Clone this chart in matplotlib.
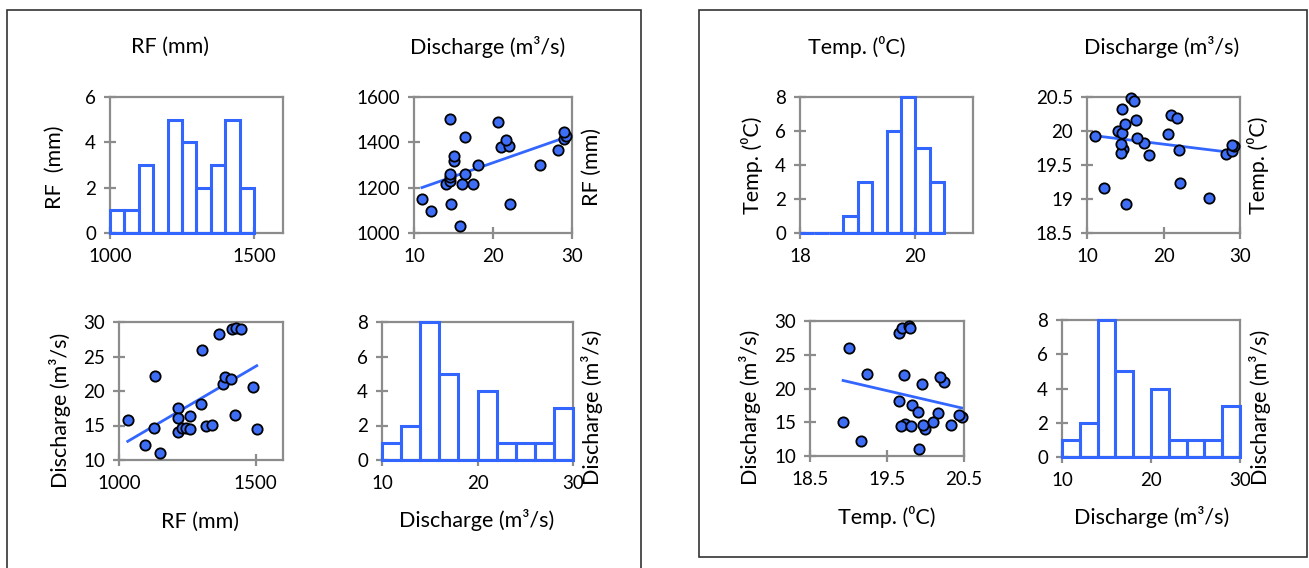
import numpy as np
import matplotlib
matplotlib.use("Agg")
import matplotlib.pyplot as plt
from matplotlib.patches import Rectangle
from matplotlib.ticker import FuncFormatter, MultipleLocator

plt.rcParams["font.family"] = ["Lato", "DejaVu Sans"]

rf = [1032, 1095, 1127, 1130, 1150, 1216, 1216, 1216, 1230, 1245, 1260, 1260, 1300,
      1302, 1318, 1340, 1367, 1380, 1386, 1410, 1413, 1429, 1447, 1424, 1490, 1504]
discharge = [15.8, 12.2, 14.7, 22.2, 11.0, 17.5, 16.1, 14.0, 14.6, 14.6, 16.4, 14.5, 18.1,
             26.0, 15.0, 15.1, 28.2, 21.0, 22.0, 21.7, 29.0, 29.2, 29.0, 16.5, 20.6, 14.5]
temp = [20.48, 19.16, 19.73, 19.24, 19.92, 19.83, 20.44, 20.00, 19.97, 20.33, 20.16, 19.68, 19.65,
        19.01, 20.10, 18.93, 19.66, 20.24, 19.72, 20.19, 19.70, 19.78, 19.80, 19.90, 19.96, 19.81]

# histogram bins and counts
rf_bins = [1000, 1050, 1100, 1150, 1200, 1250, 1300, 1350, 1400, 1450, 1500]
rf_counts = [1, 1, 3, 0, 5, 4, 2, 3, 5, 2]
q_bins = [10, 12, 14, 16, 18, 20, 22, 24, 26, 28, 30]
q_counts = [1, 2, 8, 5, 0, 4, 1, 1, 1, 3]
t_bins = [18.0, 18.25, 18.5, 18.75, 19.0, 19.25, 19.5, 19.75, 20.0, 20.25, 20.5]
t_counts = [0, 0, 0, 1, 3, 0, 6, 8, 5, 3]

RF_LAB = "RF (mm)"
Q_LAB = "Discharge (m\u00b3/s)"
T_LAB = "Temp. (\u2070C)"

BLUE = "#3366FF"
GRAY = "#8C8C8C"
W, H = 1309, 568

fig = plt.figure(figsize=(W / 100, H / 100), dpi=100)


def px_axes(x0, y0, x1, y1):
    return fig.add_axes([x0 / W, 1 - y1 / H, (x1 - x0) / W, (y1 - y0) / H])


def style(ax, xlim, ylim, xstep, ystep, xoff=0):
    ax.set_xlim(*xlim)
    ax.set_ylim(*ylim)
    ax.xaxis.set_major_locator(MultipleLocator(xstep, offset=xoff))
    ax.yaxis.set_major_locator(MultipleLocator(ystep))
    fmt = FuncFormatter(lambda v, _: f"{v:g}")
    ax.xaxis.set_major_formatter(fmt)
    ax.yaxis.set_major_formatter(fmt)
    for s in ax.spines.values():
        s.set_color(GRAY)
        s.set_linewidth(1.6)
    ax.tick_params(direction="inout", length=8, width=1.6, color=GRAY,
                   labelsize=13.5)
    ax.tick_params(axis="y", pad=6)
    ax.tick_params(axis="x", pad=7)


def hist(ax, bins, counts):
    edges = np.array(bins)
    ax.bar(edges[:-1], counts, width=np.diff(edges), align="edge", fill=False,
           edgecolor=BLUE, linewidth=2.2, clip_on=False, zorder=3)


def scatter(ax, x, y):
    x = np.array(x)
    y = np.array(y)
    k, b = np.polyfit(x, y, 1)
    xs = np.array([x.min(), x.max()])
    ax.plot(xs, k * xs + b, color=BLUE, linewidth=2, zorder=2)
    ax.scatter(x, y, s=55, color="#3D6EF5", edgecolor="black", linewidth=1.3,
               zorder=3, clip_on=False)


def label(x, y, s, rot=0):
    fig.text(x / W, 1 - y / H, s, fontsize=15.5, rotation=rot, ha="center", va="center")


# ---- left block: RF / Discharge ----
ax = px_axes(110, 97, 283, 233)
hist(ax, rf_bins, rf_counts)
style(ax, (1000, 1600), (0, 6), 500, 2)

ax = px_axes(414, 97, 572, 233)
scatter(ax, discharge, rf)
style(ax, (10, 30), (1000, 1600), 10, 200)

ax = px_axes(119, 322, 283, 460)
scatter(ax, rf, discharge)
style(ax, (1000, 1600), (10, 30), 500, 5)

ax = px_axes(382, 322, 573, 460)
hist(ax, q_bins, q_counts)
style(ax, (10, 30), (0, 8), 10, 2)

label(170, 47, RF_LAB)
label(488, 47, Q_LAB)
label(55, 167, "RF  (mm)", 90)
label(592, 167, RF_LAB, 90)
label(60, 410, Q_LAB, 90)
label(592, 407, Q_LAB, 90)
label(200, 522, RF_LAB)
label(477, 520, Q_LAB)

# ---- right block: Temp / Discharge ----
ax = px_axes(800, 97, 973, 233)
hist(ax, t_bins, t_counts)
style(ax, (18, 21), (0, 8), 2, 2)

ax = px_axes(1087, 97, 1240, 233)
scatter(ax, discharge, temp)
style(ax, (10, 30), (18.5, 20.5), 10, 0.5)

ax = px_axes(810, 321, 964, 456)
scatter(ax, temp, discharge)
style(ax, (18.5, 20.5), (10, 30), 1, 5, xoff=0.5)

ax = px_axes(1062, 320, 1240, 457)
hist(ax, q_bins, q_counts)
style(ax, (10, 30), (0, 8), 10, 2)

label(857, 47, T_LAB)
label(1162, 47, Q_LAB)
label(752, 165, T_LAB, 90)
label(1258, 165, T_LAB, 90)
label(750, 407, Q_LAB, 90)
label(1260, 407, Q_LAB, 90)
label(887, 517, T_LAB)
label(1152, 517, Q_LAB)

# outer frames of the two chart blocks
fig.patches.append(Rectangle((7 / W, -0.05), (641 - 7) / W, 1.05 - 10 / H,
                             transform=fig.transFigure, fill=False,
                             edgecolor="#333333", linewidth=1.2))
fig.patches.append(Rectangle((699 / W, 1 - 557 / H), (1307 - 699) / W, (557 - 10) / H,
                             transform=fig.transFigure, fill=False,
                             edgecolor="#333333", linewidth=1.2))

fig.savefig("out.png", dpi=100)
